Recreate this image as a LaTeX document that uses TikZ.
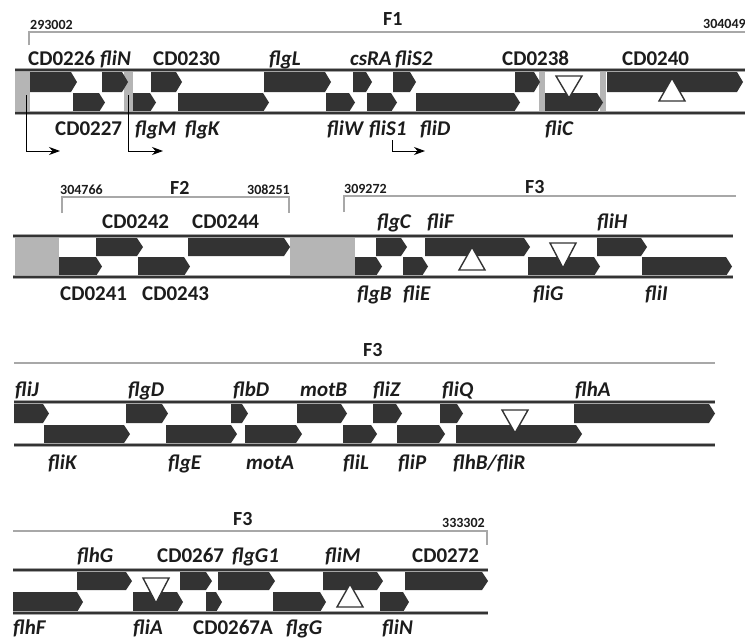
\documentclass[tikz,border=0pt]{standalone}
\usepackage{fontspec}
\setmainfont{Carlito}
\usetikzlibrary{arrows.meta}
\definecolor{genegray}{HTML}{333333}
\definecolor{textgray}{HTML}{1C1C1C}
\definecolor{boxgray}{HTML}{B5B5B5}
\definecolor{rulegray}{HTML}{A8A8A8}
% one gene: x start, x end, lane top, lane bottom
\newcommand{\gene}[4]{\fill[genegray] (#1,#3) -- ({#2-6},#3) -- (#2,{(#3+#4)/2}) -- ({#2-6},#4) -- (#1,#4) -- cycle;}
% open triangles: x centre, base y, tip y
\newcommand{\tri}[3]{\draw[tribox] ({#1-13},#2) -- ({#1+13},#2) -- (#1,#3) -- cycle;}
\begin{document}
\begin{tikzpicture}[x=1pt, y=-1pt,
        lbl/.style={font=\bfseries\fontsize{21}{21}\selectfont, inner sep=0pt, anchor=base west, text=textgray},
        glbl/.style={lbl, font=\bfseries\itshape\fontsize{21}{21}\selectfont},
        num/.style={font=\bfseries\fontsize{14}{14}\selectfont, inner sep=0pt, anchor=base west, text=textgray},
        frag/.style={font=\bfseries\fontsize{20}{20}\selectfont, inner sep=0pt, anchor=base west, text=textgray},
        ruler/.style={draw=rulegray, line width=1.2pt},
        trackhalo/.style={draw=black!35, line width=3.4pt},
        trackline/.style={draw=black!80, line width=1.8pt},
        tribox/.style={draw=genegray, fill=white, line width=1.4pt, line join=miter},
        promoter/.style={draw=black, line width=0.9pt, -{Stealth[length=11pt, width=8pt]}}
    ]
    \fill[white] (0,0) rectangle (745,640);
    \useasboundingbox (0,0) rectangle (745,640);

    % ---------- row 1: F1 ----------
    \draw[ruler] (29,45) -- (29,32) -- (746,32);
    \node[num] (n293002) at (30,29.5) {293002};
    \node[frag] (f1) at (383,25) {F1};
    \node[num] (n304049) at (703,28.5) {304049};
    \foreach \a/\b in {15/30, 124/133, 539/545, 600/606}
        {\fill[boxgray] (\a,71) rectangle (\b,112);}
    \foreach \a/\b in {30/77, 102/128, 151/182, 264/331, 353/372, 393/416, 515/540, 607/743}
        {\gene{\a}{\b}{72}{92}}
    \foreach \a/\b in {73/105, 133/156, 178/269, 326/355, 367/397, 416/520, 545/603}
        {\gene{\a}{\b}{93}{112}}
    \tri{569}{76}{98}
    \tri{672}{101}{78}
    \foreach \y in {70, 113} {
        \draw[trackhalo] (15,\y) -- (746,\y);
        \draw[trackline] (15,\y) -- (746,\y);
    }
    \node[lbl] (cd0226) at (28,65) {CD0226};
    \node[glbl] (fliN1) at (100,65) {fliN};
    \node[lbl] (cd0230) at (153,65) {CD0230};
    \node[glbl] (flgL) at (269,65) {flgL};
    \node[glbl] (csRA) at (350,65) {csRA};
    \node[glbl] (fliS2) at (395,65) {fliS2};
    \node[lbl] (cd0238) at (502,65) {CD0238};
    \node[lbl] (cd0240) at (622,65) {CD0240};
    \node[lbl] (cd0227) at (55,135) {CD0227};
    \node[glbl] (flgM) at (135,135) {flgM};
    \node[glbl] (flgK) at (185,135) {flgK};
    \node[glbl] (fliW) at (327,135) {fliW};
    \node[glbl] (fliS1) at (369,135) {fliS1};
    \node[glbl] (fliD) at (420,135) {fliD};
    \node[glbl] (fliC) at (545,135) {fliC};
    % promoters
    \coordinate (p1) at (26,95);
    \coordinate (p2) at (128,95);
    \coordinate (p3) at (392,140);
    \draw[promoter] (p1) |- (60,151);
    \draw[promoter] (p2) |- (163,151);
    \draw[promoter] (p3) |- (425,151);

    % ---------- row 2: F2 and F3 ----------
    \draw[ruler] (62,213) -- (62,197) -- (289,197) -- (289,213);
    \draw[ruler] (344,212) -- (344,196) -- (736,196);
    \node[num] (n304766) at (60,194) {304766};
    \node[frag] (f2) at (170,194) {F2};
    \node[num] (n308251) at (247,194) {308251};
    \node[num] (n309272) at (344,193) {309272};
    \node[frag] (f3a) at (525,193) {F3};
    \foreach \a/\b in {15/59, 290/355}
        {\fill[boxgray] (\a,237) rectangle (\b,276);}
    \foreach \a/\b in {96/143, 188/290, 376/407, 425/530, 597/647}
        {\gene{\a}{\b}{238}{256}}
    \foreach \a/\b in {59/102, 138/190, 355/382, 403/428, 528/600, 642/732}
        {\gene{\a}{\b}{257}{276}}
    \tri{472}{270}{247}
    \tri{563}{243}{268}
    \foreach \y in {236, 277} {
        \draw[trackhalo] (13,\y) -- (733,\y);
        \draw[trackline] (13,\y) -- (733,\y);
    }
    \node[lbl] (cd0242) at (102,228) {CD0242};
    \node[lbl] (cd0244) at (192,228) {CD0244};
    \node[glbl] (flgC) at (377,228) {flgC};
    \node[glbl] (fliF) at (427,228) {fliF};
    \node[glbl] (fliH) at (597,228) {fliH};
    \node[lbl] (cd0241) at (60,300) {CD0241};
    \node[lbl] (cd0243) at (142,300) {CD0243};
    \node[glbl] (flgB) at (357,300) {flgB};
    \node[glbl] (fliE) at (403,300) {fliE};
    \node[glbl] (fliG) at (533,300) {fliG};
    \node[glbl] (fliI) at (645,300) {fliI};

    % ---------- row 3: F3 ----------
    \draw[ruler] (14,363) -- (715,363);
    \node[frag] (f3b) at (363,356) {F3};
    \foreach \a/\b in {14/49, 126/168, 231/248, 297/347, 373/402, 440/463, 574/715}
        {\gene{\a}{\b}{404}{423}}
    \foreach \a/\b in {44/130, 166/237, 245/302, 343/377, 397/445, 456/582}
        {\gene{\a}{\b}{425}{443}}
    \tri{515}{410}{433}
    \foreach \y in {402, 445} {
        \draw[trackhalo] (14,\y) -- (715,\y);
        \draw[trackline] (14,\y) -- (715,\y);
    }
    \node[glbl] (fliJ) at (15,396) {fliJ};
    \node[glbl] (flgD) at (128,396) {flgD};
    \node[glbl] (flbD) at (233,396) {flbD};
    \node[glbl] (motB) at (300,396) {motB};
    \node[glbl] (fliZ) at (373,396) {fliZ};
    \node[glbl] (fliQ) at (442,396) {fliQ};
    \node[glbl] (flhA) at (575,396) {flhA};
    \node[glbl] (fliK) at (48,469) {fliK};
    \node[glbl] (flgE) at (168,469) {flgE};
    \node[glbl] (motA) at (246,469) {motA};
    \node[glbl] (fliL) at (343,469) {fliL};
    \node[glbl] (fliP) at (398,469) {fliP};
    \node[glbl] (flhBfliR) at (453,469) {flhB/fliR};

    % ---------- row 4: F3 ----------
    \draw[ruler] (13,531) -- (487,531) -- (487,545);
    \node[frag] (f3c) at (233,525) {F3};
    \node[num] (n333302) at (442,527) {333302};
    \foreach \a/\b in {77/132, 180/212, 218/275, 323/383, 405/488}
        {\gene{\a}{\b}{572}{590}}
    \foreach \a/\b in {13/83, 133/183, 206/222, 273/326, 380/409}
        {\gene{\a}{\b}{592}{612}}
    \tri{156}{578}{603}
    \tri{350}{607}{584}
    \foreach \y in {570, 613} {
        \draw[trackhalo] (13,\y) -- (488,\y);
        \draw[trackline] (13,\y) -- (488,\y);
    }
    \node[glbl] (flhG) at (77,562) {flhG};
    \node[lbl] (cd0267) at (157,562) {CD0267};
    \node[glbl] (flgG1) at (232,562) {flgG1};
    \node[glbl] (fliM) at (325,562) {fliM};
    \node[lbl] (cd0272) at (412,562) {CD0272};
    \node[glbl] (flhF) at (13,634) {flhF};
    \node[glbl] (fliA) at (133,634) {fliA};
    \node[lbl] (cd0267A) at (193,634) {CD0267A};
    \node[glbl] (flgG) at (286,634) {flgG};
    \node[glbl] (fliN2) at (382,634) {fliN};
\end{tikzpicture}
\end{document}
